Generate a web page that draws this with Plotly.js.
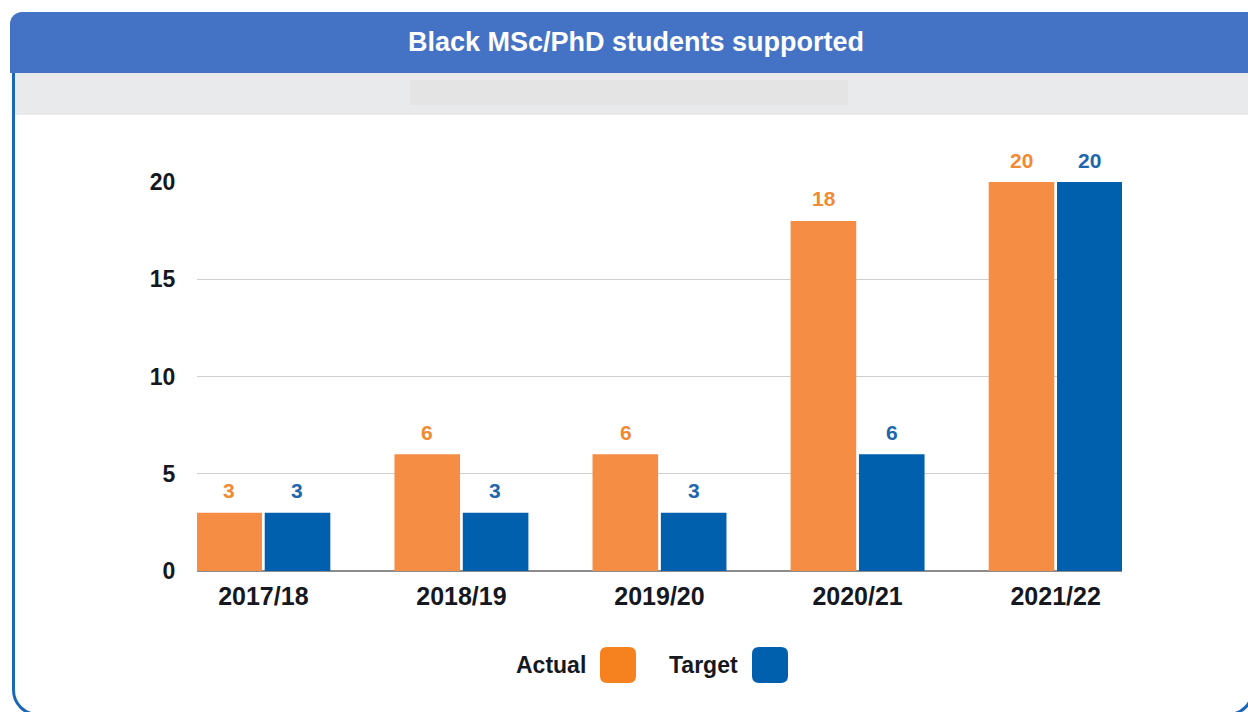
<!DOCTYPE html>
<html>
<head>
<meta charset="utf-8">
<script src="https://cdn.plot.ly/plotly-3.0.1.min.js"></script>
<style>
  html, body { margin: 0; padding: 0; background: #ffffff; overflow: hidden; }
  #wrap { position: relative; width: 1248px; height: 712px; overflow: hidden; }
  .card { position: absolute; left: 12px; top: 40px; border: 3px solid #1d67b7; border-radius: 26px; box-sizing: border-box; width: 1242px; height: 676px; }
  .head { position: absolute; left: 10px; top: 12px; width: 1250px; height: 61px; background: #4472c5; border-top-left-radius: 12px; }
  .band { position: absolute; left: 15px; top: 73px; width: 1240px; height: 42px; background: #e9eaec; }
  .inner { position: absolute; left: 410px; top: 80px; width: 438px; height: 25px; background: #e4e4e4; }
  #chart { position: absolute; left: 0; top: 0; width: 1248px; height: 712px; }
</style>
</head>
<body>
<div id="wrap">
  <div class="card"></div>
  <div class="head"></div>
  <div class="band"></div>
  <div class="inner"></div>
  <div id="chart"></div>
</div>
<script>
const categories = ["2017/18", "2018/19", "2019/20", "2020/21", "2021/22"];
const actual = [3, 6, 6, 18, 20];
const target = [3, 3, 3, 6, 20];
const yTicks = [0, 5, 10, 15, 20];

const barOrange = "#f58d45";
const barBlue = "#0060ae";
const textOrange = "#f08a33";
const textBlue = "#1f66ad";
const font = "Liberation Sans, Arial, Helvetica, sans-serif";

const traces = [
  { type: "bar", name: "Actual", x: categories, y: actual, marker: { color: barOrange }, hoverinfo: "x+y" },
  { type: "bar", name: "Target", x: categories, y: target, marker: { color: barBlue }, hoverinfo: "x+y" }
];

const annotations = [];
categories.forEach((c, i) => {
  annotations.push({ x: c, y: actual[i], xref: "x", yref: "y", text: String(actual[i]), showarrow: false,
    xshift: -34, yshift: 22, font: { family: font, size: 21, color: textOrange, weight: "bold" } });
  annotations.push({ x: c, y: target[i], xref: "x", yref: "y", text: String(target[i]), showarrow: false,
    xshift: 34, yshift: 22, font: { family: font, size: 21, color: textBlue, weight: "bold" } });
});

// plot area in pixels
const W = 1248, H = 712;
const L = 197, R = 1122, T = 182, B = 571;
const px = x => (x - L) / (R - L);
const py = y => (B - y) / (B - T);

// custom legend: label followed by rounded swatch
const legendItems = [
  { label: traces[0].name, color: "#f5821f", textX: 551, swX: 600 },
  { label: traces[1].name, color: "#0060ad", textX: 703, swX: 752 }
];
const shapes = [];
legendItems.forEach(it => {
  annotations.push({ xref: "paper", yref: "paper", x: px(it.textX), y: py(665), text: it.label, showarrow: false,
    font: { family: font, size: 23, color: "#151820", weight: "bold" }, xanchor: "center", yanchor: "middle" });
  const x0 = it.swX, x1 = it.swX + 36, y0 = 647, y1 = 683, r = 7;
  const path = `M ${px(x0 + r)} ${py(y0)} L ${px(x1 - r)} ${py(y0)} Q ${px(x1)} ${py(y0)} ${px(x1)} ${py(y0 + r)} ` +
    `L ${px(x1)} ${py(y1 - r)} Q ${px(x1)} ${py(y1)} ${px(x1 - r)} ${py(y1)} L ${px(x0 + r)} ${py(y1)} ` +
    `Q ${px(x0)} ${py(y1)} ${px(x0)} ${py(y1 - r)} L ${px(x0)} ${py(y0 + r)} Q ${px(x0)} ${py(y0)} ${px(x0 + r)} ${py(y0)} Z`;
  shapes.push({ type: "path", xref: "paper", yref: "paper", path: path, fillcolor: it.color, line: { width: 0 } });
});

const layout = {
  width: W, height: H,
  margin: { l: L, r: W - R, t: T, b: H - B, pad: 0 },
  paper_bgcolor: "rgba(0,0,0,0)",
  plot_bgcolor: "rgba(0,0,0,0)",
  title: { text: "Black MSc/PhD students supported", x: 636 / W, xref: "container", y: 1 - 42 / H, yref: "container",
    xanchor: "center", yanchor: "middle", font: { family: font, size: 27, color: "#ffffff", weight: "bold" } },
  showlegend: false,
  barmode: "group",
  bargap: 0.31,
  bargroupgap: 0.04,
  xaxis: {
    type: "category", range: [-0.335, 4.335], showgrid: false, showline: false, zeroline: false,
    ticks: "outside", ticklen: 3, tickcolor: "rgba(0,0,0,0)",
    tickfont: { family: font, size: 25, color: "#151820", weight: "bold" }
  },
  yaxis: {
    range: [0, 20], tickvals: yTicks, ticktext: yTicks.map(String), showgrid: true, gridcolor: "#cfcfcf", gridwidth: 1.3,
    zeroline: true, zerolinecolor: "#8c8c8c", zerolinewidth: 1.5, showline: false,
    ticks: "outside", ticklen: 16, tickcolor: "rgba(0,0,0,0)",
    tickfont: { family: font, size: 23, color: "#151820", weight: "bold" }, fixedrange: true
  },
  annotations: annotations,
  shapes: shapes
};

Plotly.newPlot("chart", traces, layout, { displayModeBar: false, staticPlot: true });
</script>
</body>
</html>
